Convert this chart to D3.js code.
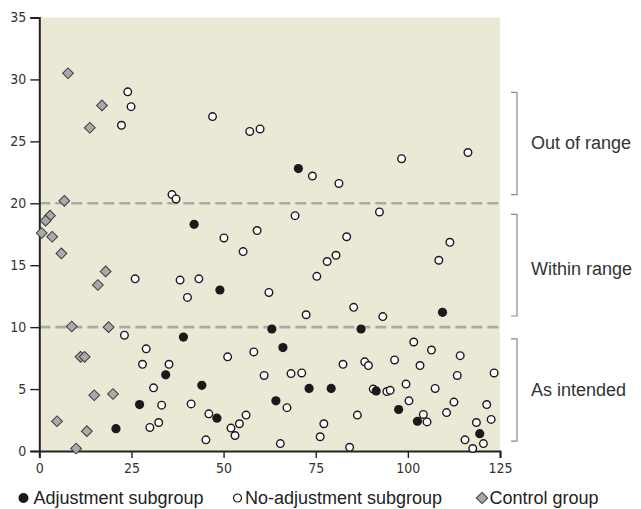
<!DOCTYPE html>
<html>
<head>
<meta charset="utf-8">
<script src="https://cdn.jsdelivr.net/npm/d3@7"></script>
<style>
  body { margin: 0; background: #fff; }
  svg { display: block; }
  .tick text { font-family: "DejaVu Sans Condensed", "Liberation Sans Narrow", sans-serif; font-stretch: condensed; font-size: 14px; fill: #333; }
</style>
</head>
<body>
<div id="chart"></div>
<script>
// adjustment subgroup (filled circles)
var adjustment = [
  [42.0, 18.3], [70.3, 22.8], [49.0, 13.0], [39.1, 9.2], [34.3, 6.15], [44.1, 5.3],
  [27.2, 3.75], [48.2, 2.65], [20.8, 1.8], [63.1, 9.85], [87.3, 9.85], [109.4, 11.2],
  [66.1, 8.35], [73.2, 5.05], [79.2, 5.05], [91.4, 4.85], [64.2, 4.05], [97.5, 3.35],
  [102.6, 2.4], [119.5, 1.4]
];

// no-adjustment subgroup (open circles)
var noAdjustment = [
  [24.0, 29.0], [24.9, 27.8], [22.3, 26.3], [47.0, 27.0], [57.1, 25.8], [59.9, 26.0],
  [36.0, 20.7], [37.1, 20.35], [50.1, 17.2], [59.1, 17.8], [74.1, 22.2], [81.3, 21.6],
  [98.3, 23.6], [116.3, 24.1], [69.4, 19.0], [92.3, 19.3], [83.4, 17.3], [111.4, 16.85],
  [26.0, 13.9], [38.2, 13.8], [43.3, 13.9], [40.2, 12.4], [55.3, 16.1], [23.1, 9.35],
  [29.0, 8.25], [28.0, 7.0], [35.2, 7.0], [51.1, 7.6], [58.2, 8.0], [31.0, 5.1],
  [33.2, 3.7], [41.2, 3.8], [46.0, 3.0], [30.0, 1.9], [32.4, 2.3], [52.0, 1.85],
  [54.3, 2.2], [56.1, 2.9], [53.1, 1.25], [45.2, 0.9], [61.0, 6.1],
  [108.4, 15.4], [80.5, 15.8], [78.1, 15.3], [75.3, 14.1], [62.3, 12.8], [85.3, 11.6],
  [72.4, 11.0], [93.2, 10.85], [101.6, 8.8], [106.4, 8.15], [114.2, 7.7], [96.4, 7.35],
  [82.4, 7.0], [88.3, 7.2], [89.3, 6.9], [103.3, 6.9], [113.4, 6.1], [123.4, 6.3],
  [68.3, 6.25], [71.2, 6.3], [90.6, 5.0], [94.3, 4.8], [95.2, 4.9], [99.5, 5.4],
  [107.4, 5.05], [100.3, 4.05], [67.2, 3.5], [112.5, 3.95], [121.4, 3.75], [86.3, 2.9],
  [104.2, 2.95], [105.2, 2.35], [110.5, 3.1], [122.6, 2.55], [118.6, 2.3], [77.2, 2.2],
  [76.2, 1.15], [65.4, 0.6], [84.2, 0.3], [115.5, 0.9], [120.5, 0.6], [117.6, 0.2]
];

// control group (grey diamonds)
var control = [
  [7.8, 30.5], [17.0, 27.9], [13.7, 26.1], [6.8, 20.2], [2.9, 19.0], [1.7, 18.6],
  [0.65, 17.6], [3.5, 17.3], [6.0, 15.95], [18.0, 14.5], [15.9, 13.4], [8.8, 10.05],
  [18.8, 10.0], [11.2, 7.6], [12.3, 7.6], [14.9, 4.5], [20.0, 4.6], [4.8, 2.4],
  [12.9, 1.6], [10.0, 0.2]
];

var xTicks = [0, 25, 50, 75, 100, 125];
var yTicks = [0, 5, 10, 15, 20, 25, 30, 35];
var thresholds = [10, 20];

// range brackets on the right: [top, bottom] in y units
var rangeLabels = ["Out of range", "Within range", "As intended"];
var rangeSpans = [[28.95, 20.7], [19.1, 10.9], [9.05, 0.8]];
var rangeLabelY = [24.85, 14.7, 4.95];

var legendNames = ["Adjustment subgroup", "No-adjustment subgroup", "Control group"];

var width = 641, height = 509;
var margin = {top: 17.5, left: 39.3, right: 141, bottom: 58};

var svg = d3.select("#chart").append("svg")
  .attr("width", width)
  .attr("height", height);

var x = d3.scaleLinear().domain([0, 125]).range([margin.left, width - margin.right]);
var y = d3.scaleLinear().domain([0, 35]).range([height - margin.bottom, margin.top]);

var labelFont = "'Liberation Sans', Arial, sans-serif";

// plot background
svg.append("rect")
  .attr("x", x(0))
  .attr("y", y(35))
  .attr("width", x(125) - x(0))
  .attr("height", y(0) - y(35))
  .attr("fill", "#ece8d6");

// dashed threshold lines
svg.selectAll("line.threshold")
  .data(thresholds)
  .join("line")
    .attr("class", "threshold")
    .attr("x1", x(0))
    .attr("x2", x(125))
    .attr("y1", d => y(d))
    .attr("y2", d => y(d))
    .attr("stroke", "#a9a9a9")
    .attr("stroke-width", 2.6)
    .attr("stroke-dasharray", "11,5");

// axes
var yAxis = d3.axisLeft(y).tickValues(yTicks).tickSize(9).tickPadding(4);
var xAxis = d3.axisBottom(x).tickValues(xTicks).tickSize(7).tickPadding(5);

svg.append("g")
  .attr("transform", "translate(" + x(0) + ",0)")
  .call(yAxis)
  .call(g => g.select(".domain").attr("stroke", "#222").attr("stroke-width", 2))
  .call(g => g.selectAll(".tick line").attr("stroke", "#222").attr("stroke-width", 1.4));

svg.append("g")
  .attr("transform", "translate(0," + y(0) + ")")
  .call(xAxis)
  .call(g => g.select(".domain").attr("stroke", "#222").attr("stroke-width", 2))
  .call(g => g.selectAll(".tick line").attr("stroke", "#222").attr("stroke-width", 1.4));

// points
var diamond = d3.symbol().type(d3.symbolSquare).size(58);

svg.append("g")
  .selectAll("path")
  .data(control)
  .join("path")
    .attr("d", diamond)
    .attr("transform", d => "translate(" + x(d[0]) + "," + y(d[1]) + ") rotate(45)")
    .attr("fill", "#a7a9ac")
    .attr("stroke", "#3a3a3a")
    .attr("stroke-width", 1);

svg.append("g")
  .selectAll("circle")
  .data(noAdjustment)
  .join("circle")
    .attr("cx", d => x(d[0]))
    .attr("cy", d => y(d[1]))
    .attr("r", 3.8)
    .attr("fill", "#fff")
    .attr("stroke", "#1a1a1a")
    .attr("stroke-width", 1.4);

svg.append("g")
  .selectAll("circle")
  .data(adjustment)
  .join("circle")
    .attr("cx", d => x(d[0]))
    .attr("cy", d => y(d[1]))
    .attr("r", 4.6)
    .attr("fill", "#1a1a1a");

// brackets and range labels
var brackets = svg.append("g");
var bx = x(125) + 17;

brackets.selectAll("path")
  .data(rangeSpans)
  .join("path")
    .attr("d", d => "M" + (bx - 6) + "," + y(d[0]) + "H" + bx + "V" + y(d[1]) + "H" + (bx - 6))
    .attr("fill", "none")
    .attr("stroke", "#8a8a8a")
    .attr("stroke-width", 1.2);

brackets.selectAll("text")
  .data(rangeLabels)
  .join("text")
    .attr("x", bx + 14)
    .attr("y", (d, i) => y(rangeLabelY[i]))
    .attr("dominant-baseline", "central")
    .attr("font-family", labelFont)
    .attr("font-size", 18)
    .attr("fill", "#333")
    .text(d => d);

// legend
var legendX = [23.5, 237.5, 482];
var legend = svg.append("g")
  .selectAll("g")
  .data(legendNames)
  .join("g")
    .attr("transform", (d, i) => "translate(" + legendX[i] + ", 498)");

legend.filter((d, i) => i == 0).append("circle")
  .attr("r", 5).attr("fill", "#1a1a1a");
legend.filter((d, i) => i == 1).append("circle")
  .attr("r", 4).attr("fill", "#fff").attr("stroke", "#1a1a1a").attr("stroke-width", 1.2);
legend.filter((d, i) => i == 2).append("path")
  .attr("d", d3.symbol().type(d3.symbolSquare).size(64))
  .attr("transform", "rotate(45)")
  .attr("fill", "#a7a9ac").attr("stroke", "#3a3a3a").attr("stroke-width", 1);

legend.append("text")
  .attr("x", (d, i) => i == 0 ? 10 : 7.5)
  .attr("y", 0)
  .attr("dominant-baseline", "central")
  .attr("font-family", labelFont)
  .attr("font-size", 18)
  .attr("fill", "#222")
  .text(d => d);
</script>
</body>
</html>
